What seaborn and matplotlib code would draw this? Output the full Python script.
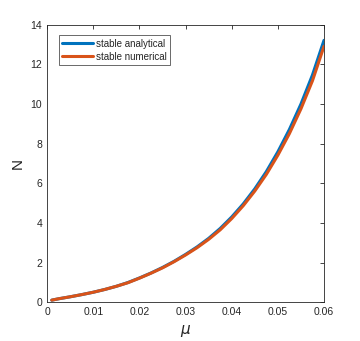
import matplotlib
matplotlib.use("Agg")
import matplotlib.pyplot as plt
import seaborn as sns
import pandas as pd

mu = [0.001, 0.0025, 0.005, 0.0075, 0.01, 0.0125, 0.015, 0.0175, 0.02, 0.0225,
      0.025, 0.0275, 0.03, 0.0325, 0.035, 0.0375, 0.04, 0.0425, 0.045, 0.0475,
      0.05, 0.0525, 0.055, 0.0575, 0.06]
n_analytical = [0.10, 0.17, 0.27, 0.38, 0.50, 0.64, 0.80, 0.99, 1.22, 1.47,
                1.75, 2.06, 2.41, 2.79, 3.22, 3.72, 4.30, 4.96, 5.72, 6.59,
                7.59, 8.72, 10.00, 11.47, 13.22]
n_numerical = [0.10, 0.17, 0.27, 0.38, 0.50, 0.64, 0.80, 0.98, 1.21, 1.46,
               1.73, 2.04, 2.38, 2.75, 3.17, 3.65, 4.22, 4.87, 5.61, 6.45,
               7.42, 8.51, 9.76, 11.18, 12.92]
series_names = ["stable analytical", "stable numerical"]
colors = ["#0072BD", "#D95319"]

df = pd.concat([
    pd.DataFrame({"mu": mu, "N": n_analytical, "series": series_names[0]}),
    pd.DataFrame({"mu": mu, "N": n_numerical, "series": series_names[1]}),
])

sns.set_style("white")
plt.rcParams["font.family"] = ["Liberation Sans", "DejaVu Sans"]

fig = plt.figure(figsize=(3.6, 3.41), dpi=100)
ax = fig.add_axes([0.131, 0.114, 0.769, 0.813])
sns.lineplot(data=df, x="mu", y="N", hue="series", palette=colors, linewidth=2.2, ax=ax)

ax.set_xlim(0, 0.06)
ax.set_ylim(0, 14)
ax.set_xticks([0, 0.01, 0.02, 0.03, 0.04, 0.05, 0.06])
ax.set_xticklabels(["0", "0.01", "0.02", "0.03", "0.04", "0.05", "0.06"])
ax.set_yticks(range(0, 15, 2))
ax.tick_params(direction="in", top=True, right=True, length=3, width=0.6,
               labelsize=7.5, colors="#262626", labelcolor="#262626")
for s in ax.spines.values():
    s.set_color("#262626")
    s.set_linewidth(0.6)
ax.set_xlabel(r"$\mu$", fontsize=11, color="#262626")
ax.set_ylabel("N", fontsize=11, color="#262626")

leg = ax.legend(loc="upper left", bbox_to_anchor=(0.025, 0.98), fontsize=7,
                frameon=True, fancybox=False, edgecolor="#262626",
                handlelength=3.2, handletextpad=0.25, borderpad=0.35, labelspacing=0.3)
leg.get_frame().set_linewidth(0.6)

fig.savefig("out.png", dpi=100)
